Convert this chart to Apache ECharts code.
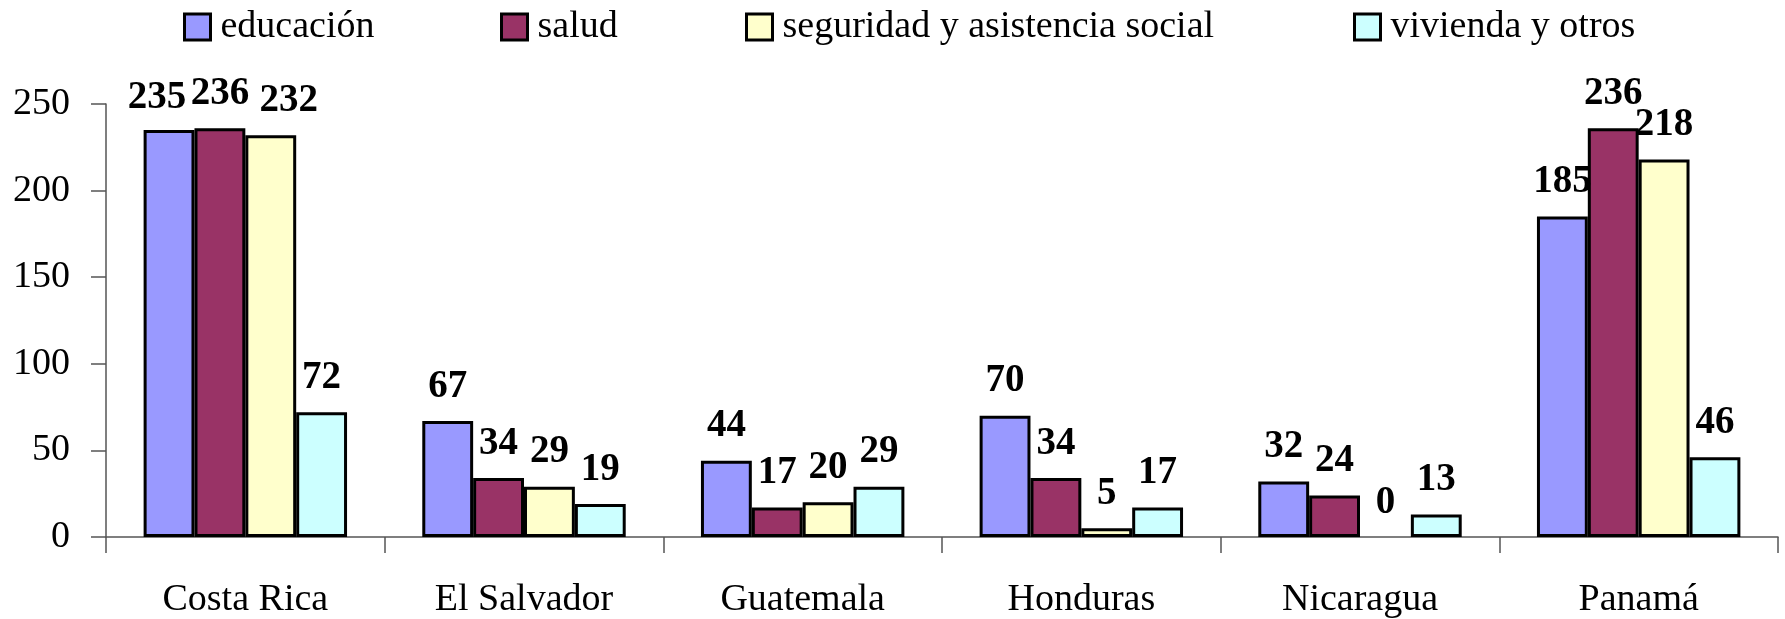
<!DOCTYPE html>
<html>
<head>
<meta charset="utf-8">
<script src="https://cdn.jsdelivr.net/npm/echarts@6/dist/echarts.min.js"></script>
<style>
html,body{margin:0;padding:0;background:#fff;}
#chart{width:1785px;height:619px;}
</style>
</head>
<body>
<div id="chart"></div>
<script>
const categories = ['Costa Rica', 'El Salvador', 'Guatemala', 'Honduras', 'Nicaragua', 'Panamá'];
const seriesNames = ['educación', 'salud', 'seguridad y asistencia social', 'vivienda y otros'];
const educacion = [235, 67, 44, 70, 32, 185];
const salud = [236, 34, 17, 34, 24, 236];
const seguridad = [232, 29, 20, 5, 0, 218];
const vivienda = [72, 19, 29, 17, 13, 46];
const yTicks = [0, 50, 100, 150, 200, 250];

const colors = ['#9999FF', '#993366', '#FFFFCC', '#CCFFFF'];
const FONT = '"Liberation Serif", "Times New Roman", serif';
const values = [educacion, salud, seguridad, vivienda];
const legendLeft = [183, 500, 745, 1353];
// label nudges (series index -> category index -> [dx, dy]) to mimic the original label placement
const labelNudge = {0: {0: [-12, 2]}, 2: {0: [18, 0]}};

const chart = echarts.init(document.getElementById('chart'), null, {renderer: 'canvas'});
chart.setOption({
  animation: false,
  backgroundColor: '#ffffff',
  legend: seriesNames.map((n, i) => ({
    left: legendLeft[i],
    top: 8,
    padding: 0,
    itemWidth: 26,
    itemHeight: 26,
    icon: 'rect',
    textStyle: {fontFamily: FONT, fontSize: 38, lineHeight: 30, color: '#000', padding: [0, 0, 0, 5]},
    data: [{name: n, itemStyle: {color: colors[i], borderColor: '#000', borderWidth: 3}}]
  })),
  grid: {left: 106, right: 7, top: 104, bottom: 81, containLabel: false},
  xAxis: {
    type: 'category',
    data: categories,
    axisLine: {show: true, lineStyle: {color: '#555', width: 1.5}},
    axisTick: {show: true, length: 16, alignWithLabel: false, lineStyle: {color: '#555', width: 1.5}},
    axisLabel: {fontFamily: FONT, fontSize: 38, color: '#000', margin: 44}
  },
  yAxis: {
    type: 'value',
    min: yTicks[0],
    max: yTicks[yTicks.length - 1],
    interval: 50,
    splitLine: {show: false},
    axisLine: {show: true, lineStyle: {color: '#555', width: 1.5}},
    axisTick: {show: true, length: 15, lineStyle: {color: '#555', width: 1.5}},
    axisLabel: {fontFamily: FONT, fontSize: 38, color: '#000', margin: 36}
  },
  series: seriesNames.map((n, i) => ({
    name: n,
    type: 'bar',
    data: values[i].map((v, j) => {
      const item = {value: v};
      if (v === 0) item.itemStyle = {borderWidth: 0};
      if (labelNudge[i] && labelNudge[i][j]) item.label = {offset: labelNudge[i][j]};
      return item;
    }),
    barGap: '0%',
    barCategoryGap: '27%',
    itemStyle: {color: colors[i], borderColor: '#000', borderWidth: 3},
    label: {
      show: true,
      position: 'top',
      distance: 15,
      fontFamily: FONT,
      fontSize: 39,
      fontWeight: 'bold',
      color: '#000'
    }
  }))
});
</script>
</body>
</html>
